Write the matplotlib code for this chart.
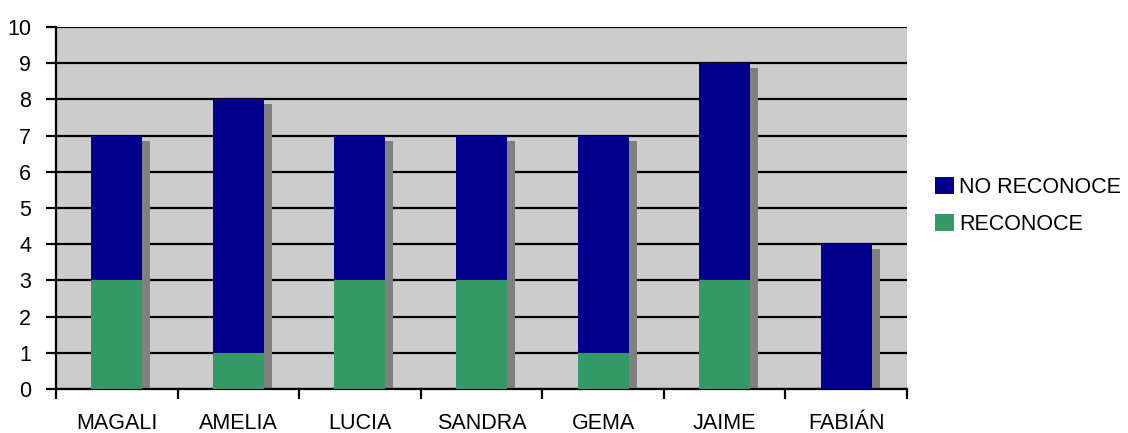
import matplotlib.pyplot as plt
import matplotlib.transforms as mtransforms
import numpy as np

# data
names = ['MAGALI', 'AMELIA', 'LUCIA', 'SANDRA', 'GEMA', 'JAIME', 'FABIÁN']
reconoce = [3, 1, 3, 3, 1, 3, 0]
no_reconoce = [4, 7, 4, 4, 6, 6, 4]

plt.rcParams['font.family'] = ['Liberation Sans', 'DejaVu Sans']

fig = plt.figure(figsize=(11.28, 4.33), dpi=100)
ax = fig.add_axes([56/1128, 1 - 389/433, (907 - 56)/1128, (389 - 27)/433])
ax.set_facecolor('#cccccc')

x = np.arange(len(names))
w = 0.42
total = np.array(reconoce) + np.array(no_reconoce)

# gray shadow, shifted right and down by a few pixels
shift = ax.transData + mtransforms.ScaledTranslation(8/100, -5/100, fig.dpi_scale_trans)
ax.bar(x, total, w, color='#808080', transform=shift, zorder=2)

ax.bar(x, reconoce, w, color='#339966', label='RECONOCE', zorder=3)
ax.bar(x, no_reconoce, w, bottom=reconoce, color='#00008c', label='NO RECONOCE', zorder=3)

ax.set_xlim(-0.5, len(names) - 0.5)
ax.set_ylim(0, 10)
ax.set_yticks(range(0, 11))
ax.yaxis.grid(True, color='black', linewidth=1.6, zorder=1)
ax.set_axisbelow(True)

ax.set_xticks(x)
ax.set_xticklabels(names)
ax.set_xticks(np.arange(-0.5, len(names)), minor=True)
ax.tick_params(axis='x', which='major', length=0, pad=17, labelsize=15.5)
ax.tick_params(axis='x', which='minor', length=7, width=1.6, direction='out')
ax.tick_params(axis='y', length=7, width=1.6, pad=11, labelsize=15.5)

for s in ['top', 'right']:
    ax.spines[s].set_visible(False)
ax.spines['left'].set_linewidth(1.6)
ax.spines['bottom'].set_linewidth(1.6)

handles, labels = ax.get_legend_handles_labels()
fig.legend(handles[::-1], labels[::-1], loc='center left',
           bbox_to_anchor=(916/1128, 1 - 206/433), frameon=False,
           fontsize=15.5, handlelength=0.85, handleheight=0.85,
           handletextpad=0.25, labelspacing=0.75)

fig.savefig('out.png', dpi=100)
